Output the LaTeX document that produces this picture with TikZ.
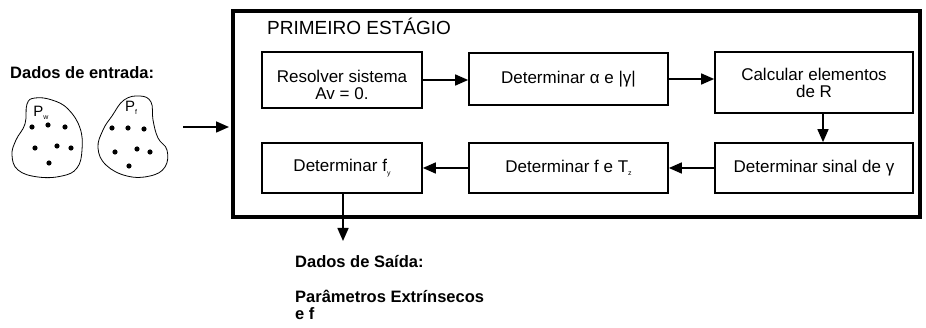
\documentclass[tikz,border=0pt]{standalone}
\usepackage{fontspec}
\setmainfont{Liberation Sans}
\usetikzlibrary{arrows.meta,positioning}
\newcommand{\subidx}[1]{\raisebox{-0.4ex}{\fontsize{7}{7}\selectfont #1}}

\begin{document}
\begin{tikzpicture}[x=1pt,y=-1pt,
  etapa/.style={draw,line width=1.7pt,align=center,inner sep=0pt,font=\fontsize{17}{17}\selectfont},
  seta/.style={line width=1.6pt,-{Triangle[length=13pt,width=11pt]}},
  rotulo/.style={inner sep=0pt,align=left,font=\bfseries\fontsize{16.5}{17}\selectfont},
  conjunto/.style={line width=0.8pt}]
\useasboundingbox (0,0) rectangle (926,328);

\node[draw,line width=4pt,minimum width=687pt,minimum height=206pt,inner sep=0pt] (estagio) at (576.5,114) {};
\node[anchor=base west,inner sep=0pt,font=\fontsize{19}{22}\selectfont] (titulo) at (267,35) {PRIMEIRO ESTÁGIO};

\node[etapa,minimum width=160pt,minimum height=56pt] (resolver) at (342,80) {\rule{0pt}{22pt}Resolver sistema\\Av = 0.};
\node[etapa,minimum width=199pt,minimum height=52pt] (alfa) at (568.5,79) {Determinar α e |γ|};
\node[etapa,minimum width=198pt,minimum height=61pt] (calcular) at (814,82.5) {Calcular elementos\\de R};
\node[etapa,minimum width=198pt,minimum height=50pt] (sinal) at (814,168) {Determinar sinal de γ};
\node[etapa,minimum width=199pt,minimum height=50pt] (ftz) at (568.5,168) {Determinar f e T\subidx{z}};
\node[etapa,minimum width=160pt,minimum height=50pt] (fy) at (342,168) {Determinar f\subidx{y}};

\draw[seta] (resolver.east) -- (resolver.east -| alfa.west);
\draw[seta] (alfa.east) -- (alfa.east -| calcular.west);
\draw[seta] ([xshift=9pt]calcular.south) -- ([xshift=9pt]calcular.south |- sinal.north);
\draw[seta] (sinal.west) -- (sinal.west -| ftz.east);
\draw[seta] (ftz.west) -- (ftz.west -| fy.east);

\coordinate (saida) at (343,241);
\draw[seta] ([xshift=1pt]fy.south) -- (saida);
\node[rotulo,anchor=base west] (dadossaida) at (295,268) {Dados de Saída:};
\node[rotulo,anchor=north west] (parametros) at (295,290) {Parâmetros Extrínsecos\\e f};

\node[rotulo,anchor=base west] (dadosentrada) at (10,79) {Dados de entrada:};
\draw[conjunto] plot[smooth cycle,tension=0.7] coordinates {(25,124) (27,104) (35,98) (52,100) (68,109) (80,128) (82,150) (77,168) (62,176) (38,177) (18,170) (12,155) (16,140)};
\draw[conjunto] plot[smooth cycle,tension=0.7] coordinates {(112,116) (124,100) (140,96) (151,102) (153,120) (158,138) (167,150) (165,167) (150,176) (127,176) (106,165) (98,148) (103,130)};
\node[inner sep=0pt,font=\fontsize{15}{15}\selectfont] (pw) at (41,113) {P\subidx{w}};
\node[inner sep=0pt,font=\fontsize{15}{15}\selectfont] (pf) at (131,108) {P\subidx{f}};
\foreach \p in {(32,127),(48,125),(65,127),(35,148),(57,146),(71,148),(49,163),
  (112,128),(128,128),(144,129),(115,152),(137,149),(150,152),(129,166)}
  \fill \p circle (2.6);

\coordinate (entrada) at (183,127);
\draw[seta,shorten >=2pt] (entrada) -- (entrada -| estagio.west);
\end{tikzpicture}
\end{document}
